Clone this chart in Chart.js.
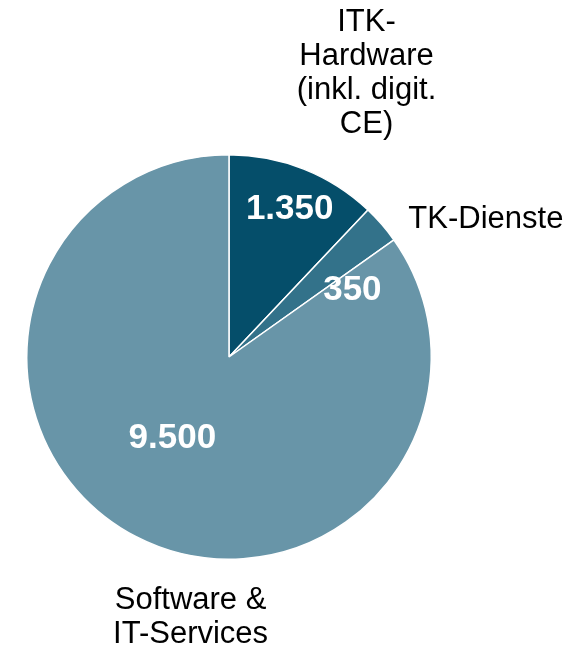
<!DOCTYPE html>
<html>
<head>
<meta charset="utf-8">
<script src="https://cdn.jsdelivr.net/npm/chart.js@4.4.1/dist/chart.umd.min.js"></script>
<style>
  html, body { margin: 0; padding: 0; background: #fff; }
  #wrap { width: 576px; height: 650px; }
</style>
</head>
<body>
<div id="wrap"><canvas id="pie" width="576" height="650"></canvas></div>
<script>
// segments, clockwise from 12 o'clock
const categories = [
    ['ITK-', 'Hardware', '(inkl. digit.', 'CE)'],
    ['TK-Dienste'],
    ['Software &', 'IT-Services']
];
const values = [1350, 350, 9500];
const valueLabels = ['1.350', '350', '9.500'];
const colors = ['#054e6a', '#33728a', '#6895a8'];

// label anchors relative to pie centre, in units of the radius
const valueOffsets = [[0.30, -0.73], [0.61, -0.33], [-0.28, 0.40]];
const nameOffsets = [[0.68, -1.40], [1.27, -0.68], [-0.19, 1.29]];

const labelPlugin = {
    id: 'sliceLabels',
    afterDatasetsDraw(chart) {
        const ctx = chart.ctx;
        const arcs = chart.getDatasetMeta(0).data;
        ctx.save();
        ctx.textAlign = 'center';
        ctx.textBaseline = 'middle';
        arcs.forEach((arc, i) => {
            const r = arc.outerRadius;
            // value inside slice
            ctx.fillStyle = '#fff';
            ctx.font = 'bold 35px "Liberation Sans", Arial, sans-serif';
            ctx.fillText(valueLabels[i], arc.x + valueOffsets[i][0] * r, arc.y + valueOffsets[i][1] * r);
            // category name outside
            const lines = categories[i];
            const lh = 34;
            ctx.fillStyle = '#000';
            ctx.font = '31px "Liberation Sans", Arial, sans-serif';
            const cx = arc.x + nameOffsets[i][0] * r;
            const cy = arc.y + nameOffsets[i][1] * r;
            lines.forEach((line, j) => {
                ctx.fillText(line, cx, cy + (j - (lines.length - 1) / 2) * lh);
            });
        });
        ctx.restore();
    }
};

new Chart(document.getElementById('pie'), {
    type: 'pie',
    data: {
        labels: categories.map(c => c.join(' ')),
        datasets: [{
            data: values,
            backgroundColor: colors,
            borderColor: '#ffffff',
            borderWidth: 1.5
        }]
    },
    options: {
        responsive: false,
        animation: false,
        layout: {
            padding: { left: 26, right: 144, top: 154, bottom: 90 }
        },
        plugins: {
            legend: { display: false },
            tooltip: { enabled: false }
        }
    },
    plugins: [labelPlugin]
});
</script>
</body>
</html>
